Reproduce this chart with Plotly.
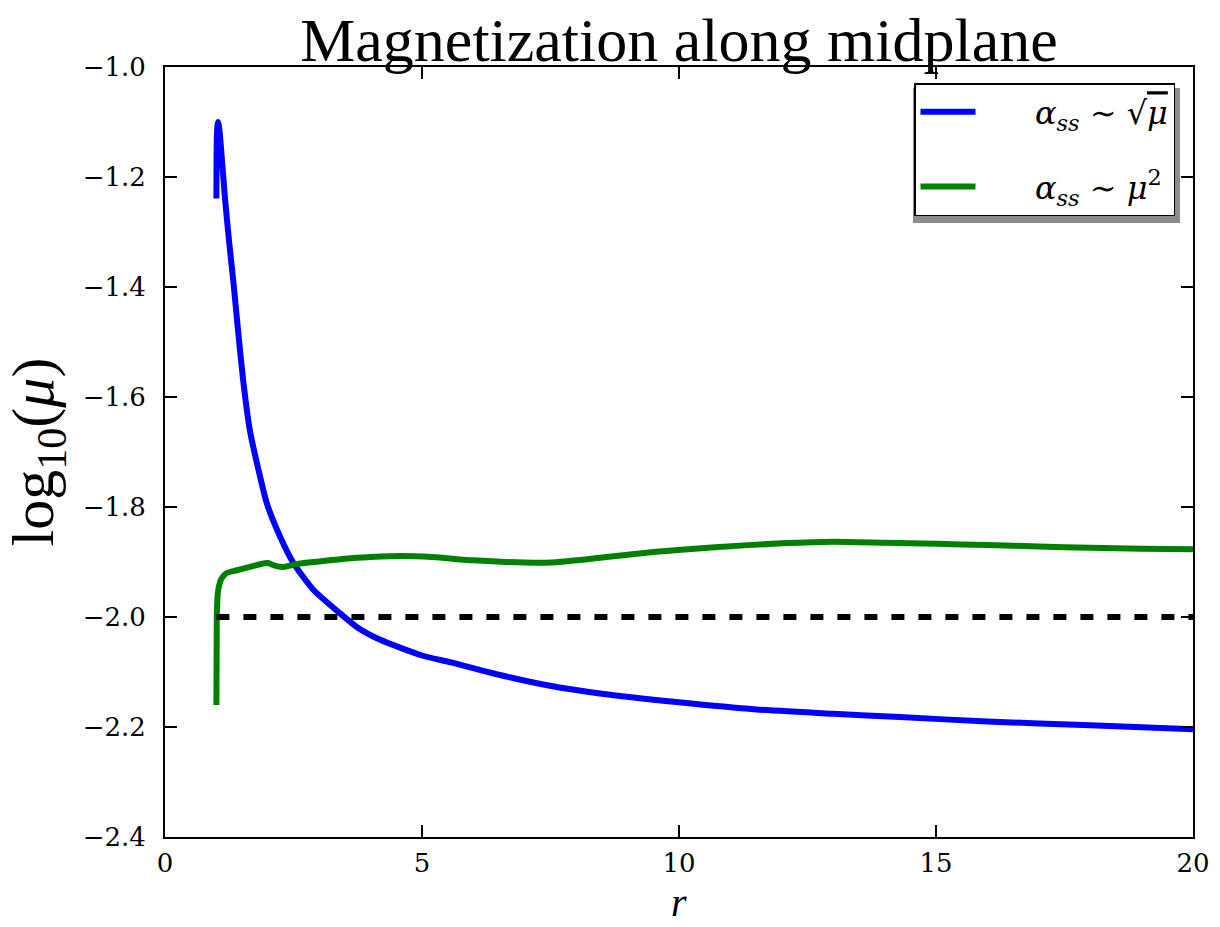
import plotly.graph_objects as go

# ---- data ----
r_blue = [1.0, 1.003, 1.012, 1.025, 1.035, 1.05, 1.07, 1.1, 1.13, 1.17, 1.25, 1.33, 1.42, 1.52,
          1.65, 1.82, 1.98, 2.24, 2.5, 2.89, 3.4, 3.73, 4.2, 5.0, 5.54, 6.5, 7.49, 8.46, 10.0,
          11.5, 13.0, 14.3, 16.0, 18.0, 20.0]
mu_blue = [-1.239, -1.17, -1.12, -1.104, -1.100, -1.108, -1.125, -1.16, -1.195, -1.242, -1.32,
           -1.39, -1.478, -1.569, -1.66, -1.733, -1.793, -1.854, -1.902, -1.951, -1.993, -2.018,
           -2.042, -2.07, -2.082, -2.105, -2.125, -2.139, -2.155, -2.168, -2.176, -2.182, -2.19,
           -2.197, -2.204]

r_green = [1.0, 1.005, 1.01, 1.03, 1.06, 1.1, 1.2, 1.4, 1.65, 1.85, 2.0, 2.15, 2.3, 2.6, 3.0,
           3.5, 4.0, 4.6, 5.2, 6.0, 7.0, 7.5, 8.5, 9.5, 10.7, 12.0, 13.0, 14.0, 15.0, 16.0, 17.0,
           18.0, 19.0, 20.0]
mu_green = [-2.16, -2.05, -1.99, -1.955, -1.94, -1.93, -1.92, -1.915, -1.909, -1.904, -1.902,
            -1.907, -1.909, -1.903, -1.899, -1.894, -1.891, -1.889, -1.891, -1.897, -1.901,
            -1.901, -1.892, -1.882, -1.873, -1.866, -1.863, -1.865, -1.867, -1.869, -1.872,
            -1.874, -1.876, -1.877]

r_ref = [1.0, 20.0]
mu_ref = [-2.0, -2.0]

x_ticks = [0, 5, 10, 15, 20]
y_ticks = [-2.4, -2.2, -2.0, -1.8, -1.6, -1.4, -1.2, -1.0]
y_ticklabels = ["\u22122.4", "\u22122.2", "\u22122.0", "\u22121.8", "\u22121.6", "\u22121.4",
                "\u22121.2", "\u22121.0"]

PAD = "\u2002\u2002\u2002\u2009"
label_blue = (PAD + "<i>\u03b1</i><sub><i>ss</i></sub> \u223c "
              "\u221a<span style='text-decoration:overline'><i>\u03bc</i></span>")
label_green = PAD + "<i>\u03b1</i><sub><i>ss</i></sub> \u223c <i>\u03bc</i><sup>2</sup>"

SERIF = "Liberation Serif, DejaVu Serif, serif"

fig = go.Figure()
fig.add_trace(go.Scatter(x=r_blue, y=mu_blue, mode="lines", name=label_blue,
                         line=dict(color="#0000ff", width=6, shape="spline", smoothing=0.6),
                         legendgroup="a"))
fig.add_trace(go.Scatter(x=r_green, y=mu_green, mode="lines", name=label_green,
                         line=dict(color="#008000", width=6, shape="spline", smoothing=0.6),
                         legendgroup="b"))
fig.add_trace(go.Scatter(x=r_ref, y=mu_ref, mode="lines", showlegend=False,
                         line=dict(color="black", width=6, dash="13px,14px")))

L, R, T, B = 165, 27, 67, 90
W, H = 1220, 927
pw, ph = W - L - R, H - T - B

def px_to_paper_x(px):
    return (px - L) / pw

def px_to_paper_y(py):
    return (H - B - py) / ph

# legend shadow
fig.add_shape(type="rect", xref="paper", yref="paper",
              x0=px_to_paper_x(913), x1=px_to_paper_x(1180),
              y0=px_to_paper_y(223), y1=px_to_paper_y(88),
              fillcolor="#8c8c8c", line=dict(width=0), layer="above")

# x-axis title placed as an annotation below the tick labels
fig.add_annotation(text="<i>r</i>", xref="paper", yref="paper",
                   x=0.5, y=px_to_paper_y(903), xanchor="center", yanchor="middle",
                   showarrow=False, borderpad=0,
                   font=dict(family=SERIF, size=40, color="black"))

axis_common = dict(showline=True, linecolor="black", linewidth=2, mirror="allticks",
                   ticks="inside", ticklen=12, tickwidth=1.5, tickcolor="black",
                   showgrid=False, zeroline=False, automargin=False,
                   tickfont=dict(family="DejaVu Serif", size=26, color="black"))

fig.update_layout(
    width=W, height=H,
    margin=dict(l=L, r=R, t=T, b=B, autoexpand=False),
    plot_bgcolor="white", paper_bgcolor="white",
    title=dict(text="Magnetization along midplane", x=0.5, xref="paper",
               y=1 - 61 / H, yref="container", yanchor="bottom",
               font=dict(family=SERIF, size=62, color="black")),
    xaxis=dict(range=[0, 20], tickvals=x_ticks, ticktext=[str(v) for v in x_ticks],
               ticklabelstandoff=2, **axis_common),
    yaxis=dict(range=[-2.4, -1.0], tickvals=y_ticks, ticktext=y_ticklabels,
               ticklabelstandoff=12,
               title=dict(text="log<sub>10</sub>(<i>\u03bc</i>)", standoff=14,
                          font=dict(family=SERIF, size=60, color="black")),
               **axis_common),
    legend=dict(x=px_to_paper_x(1175), y=px_to_paper_y(83), xanchor="right", yanchor="top",
                bgcolor="white", bordercolor="black", borderwidth=1.5,
                font=dict(family="DejaVu Serif", size=32, color="black"),
                itemwidth=55, tracegroupgap=30),
    showlegend=True,
)

fig.write_html("out.html")
